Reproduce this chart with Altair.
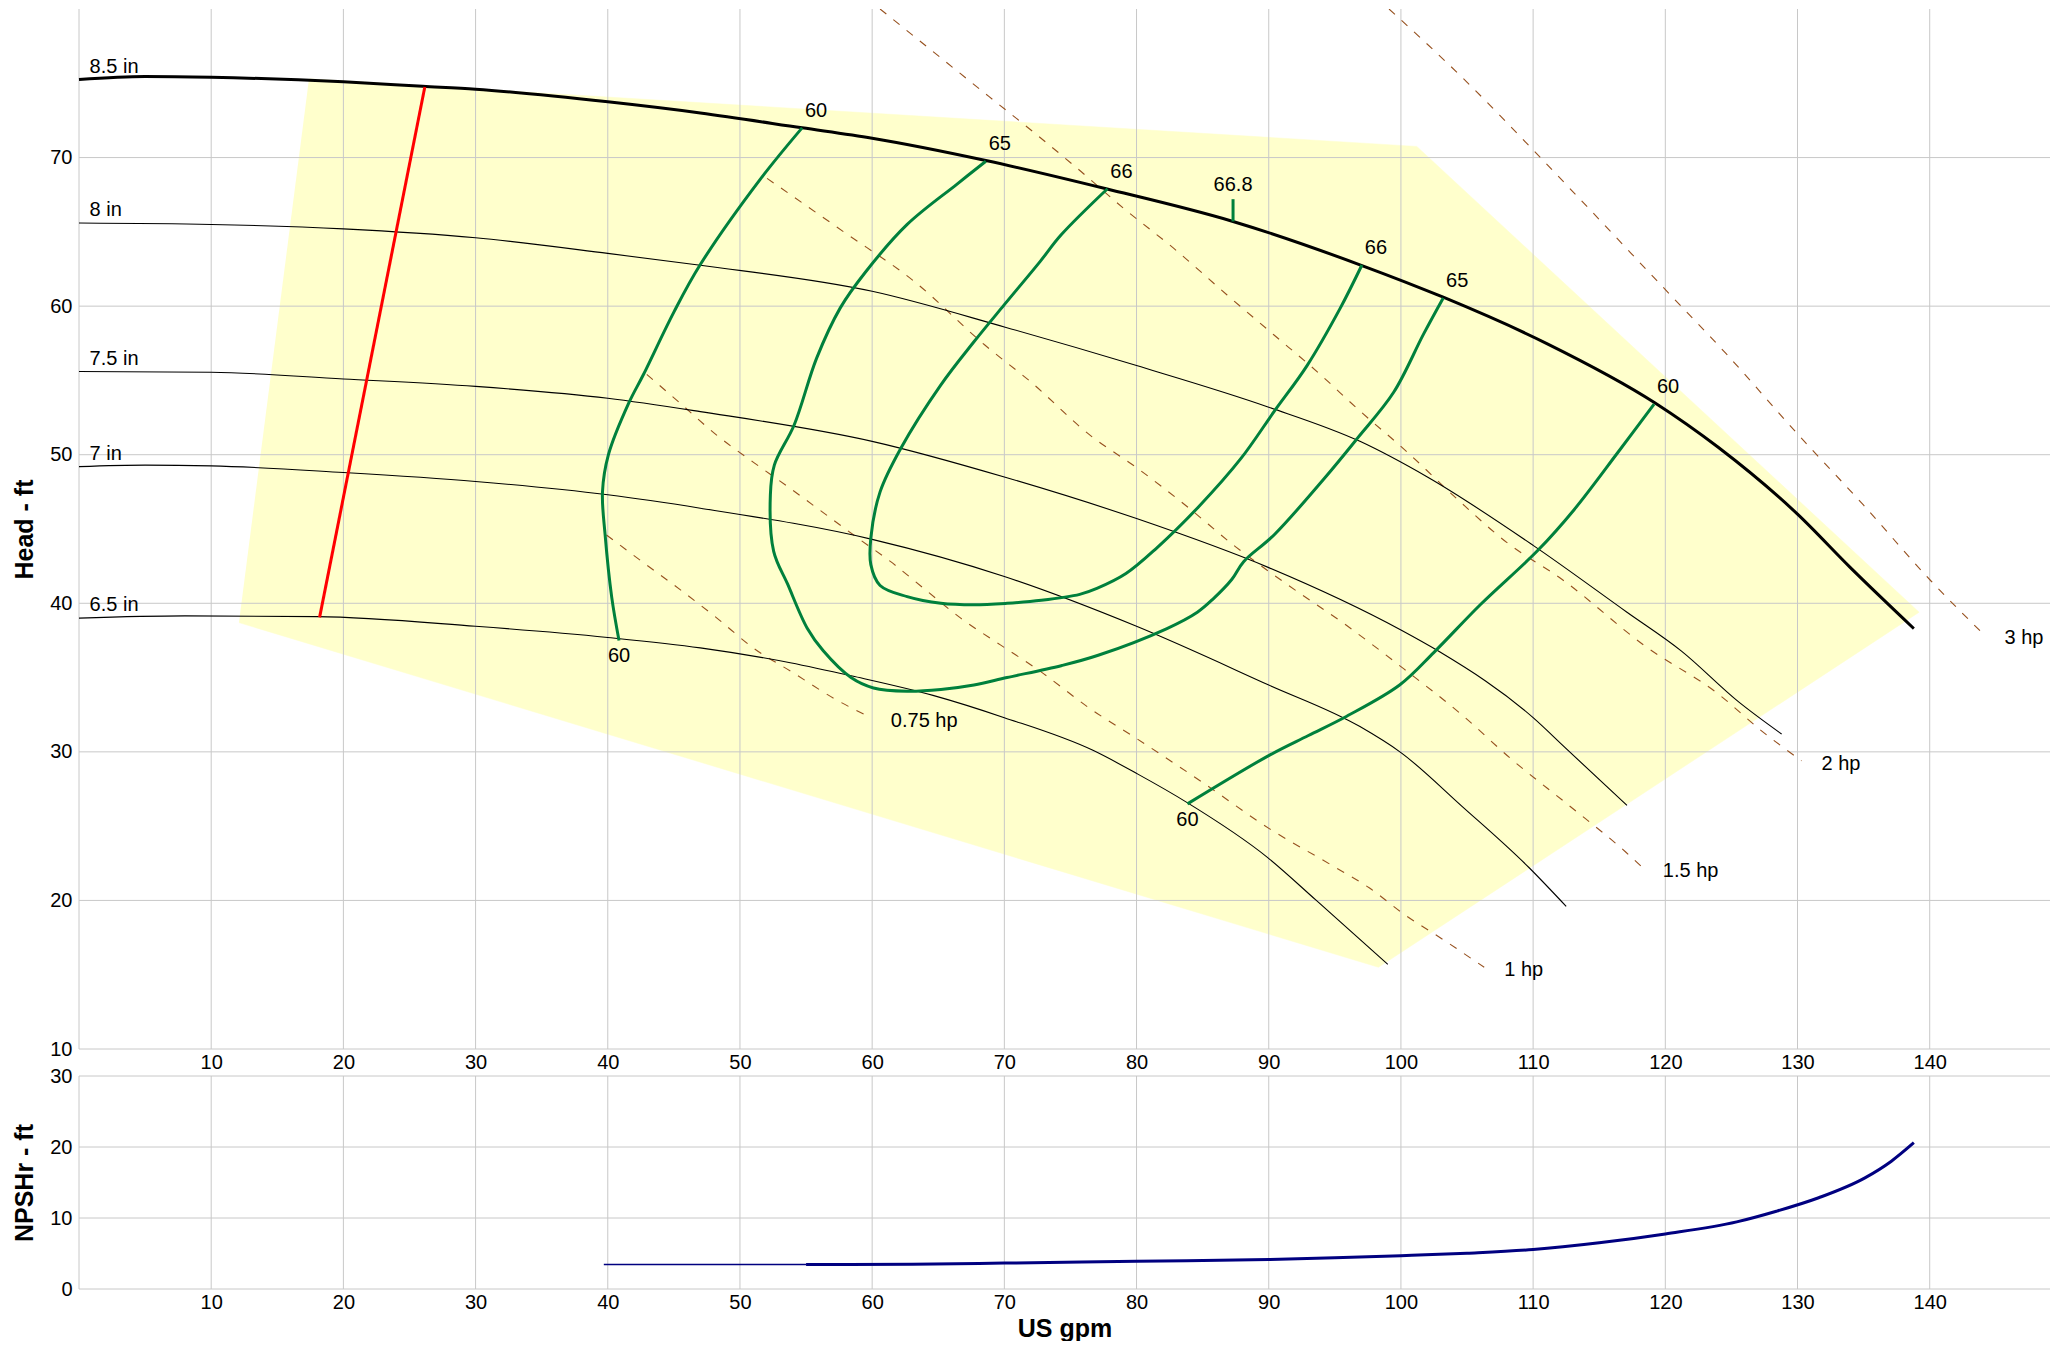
import altair as alt
import pandas as pd

FONT = "Liberation Sans"
GREEN = "#00803C"
BROWN = "#96501E"
GRID = "#c8c8c8"
YELLOW = "#FFFFCC"

# ---------------- impeller curves (US gpm, ft) ----------------
Q_85 = [0, 5, 10, 20, 26, 30, 40, 47, 54.7, 60, 68.6, 77.7, 87.3, 97, 103.2, 111, 119.2, 124, 130, 134, 138.8]
H_85 = [75.25, 75.45, 75.4, 75.1, 74.8, 74.6, 73.75, 73.0, 72.0, 71.3, 69.8, 67.9, 65.7, 62.75, 60.6, 57.5, 53.5, 50.5, 46.0, 42.4, 38.3]
Q_80 = [0, 10, 20, 30, 40, 47, 60, 70, 80, 90, 96.9, 102, 110, 117.1, 121.2, 125.5, 128.8]
H_80 = [65.6, 65.5, 65.2, 64.6, 63.55, 62.75, 61.0, 58.6, 56.0, 53.2, 50.9, 48.5, 43.9, 39.4, 36.8, 33.4, 31.2]
Q_75 = [0, 10, 20, 30, 40, 47, 60, 70, 80, 90, 100, 102.8, 110, 112.4, 117.1]
H_75 = [55.6, 55.55, 55.1, 54.6, 53.8, 52.9, 50.9, 48.5, 45.7, 42.4, 38.2, 36.8, 32.3, 30.3, 26.4]
Q_70 = [0, 5, 10, 20, 30, 40, 47, 60, 70, 80, 90, 96.9, 100, 104.6, 109.7, 112.5]
H_70 = [49.2, 49.3, 49.25, 48.8, 48.2, 47.3, 46.4, 44.3, 41.8, 38.45, 34.5, 31.7, 29.95, 26.35, 22.2, 19.6]
Q_65 = [0, 8, 18, 30, 40, 47, 53.8, 58.5, 64.6, 70, 76.7, 80.1, 83.8, 89.9, 93.6, 99]
H_65 = [39.0, 39.15, 39.1, 38.45, 37.7, 37.0, 36.0, 35.1, 33.8, 32.3, 30.1, 28.5, 26.6, 22.9, 20.0, 15.7]
SIZE_NAMES = ["8.5 in", "8 in", "7.5 in", "7 in", "6.5 in"]

# ---------------- efficiency curves ----------------
E60L_Q = [54.7, 51.5, 47.0, 45.0, 42.7, 41.6, 40.05, 39.6, 39.8, 40.3, 40.85]
E60L_H = [72.0, 68.5, 62.8, 59.6, 55.4, 53.5, 50.0, 47.5, 44.6, 40.4, 37.5]
E65_Q = [68.6, 66.4, 62.65, 59.5, 57.6, 55.8, 54.1, 52.6, 52.3, 52.55, 53.6, 55.1, 56.3, 58.4, 60.1, 62.65, 65.2, 67.7, 70.2, 74.3, 77.1, 82.3, 84.6, 85.8, 87.2, 88.1, 90.4, 94.2, 96.7, 99.45, 101.7, 103.2]
E65_H = [69.75, 68.2, 65.5, 62.3, 59.9, 56.5, 52.0, 49.3, 47.3, 43.5, 41.3, 38.3, 36.8, 35.0, 34.3, 34.08, 34.2, 34.5, 35.0, 35.8, 36.5, 38.3, 39.4, 40.3, 41.6, 42.8, 44.6, 48.4, 51.1, 54.2, 58.1, 60.55]
E66_Q = [77.8, 74.3, 72.7, 70.0, 67.7, 65.2, 62.15, 60.6, 59.9, 59.9, 60.6, 62.65, 65.2, 67.7, 70.2, 72.8, 75.7, 77.0, 79.2, 81.5, 84.7, 87.9, 90.4, 92.9, 95.4, 97.05]
E66_H = [67.9, 64.8, 63.0, 60.1, 57.6, 54.7, 50.4, 47.5, 44.4, 42.6, 41.2, 40.45, 40.0, 39.9, 40.0, 40.2, 40.6, 41.0, 42.0, 43.7, 46.5, 49.75, 52.9, 56.0, 59.85, 62.77]
E60R_Q = [119.15, 116.45, 113.1, 110.4, 106.0, 102.5, 99.9, 95.9, 93.0, 90.1, 83.85]
E60R_H = [53.4, 50.2, 46.3, 43.6, 39.9, 36.7, 34.5, 32.4, 31.1, 29.8, 26.5]
BEP_Q = [87.3, 87.3]
BEP_H = [65.7, 67.2]
BEP_LABEL = "66.8"

# ---------------- power curves ----------------
P075_Q = [39.9, 42.45, 45.5, 48.26, 51.0, 54.07, 57.1, 59.9]
P075_H = [44.6, 42.9, 40.9, 39.0, 37.0, 35.3, 33.6, 32.3]
P1_Q = [42.95, 45.5, 48.26, 51.0, 53.7, 56.3, 58.9, 61.4, 63.9, 66.7, 69.7, 72.75, 76.5, 80.0, 84.9, 90.1, 94.7, 97.6, 100.25, 103.3, 106.3]
P1_H = [55.4, 53.45, 51.3, 49.5, 47.8, 46.1, 44.4, 42.8, 41.0, 39.0, 37.2, 35.4, 32.9, 30.9, 28.0, 24.8, 22.4, 20.85, 19.06, 17.3, 15.5]
P15_Q = [52.05, 57.85, 63.2, 68.5, 72.0, 76.5, 80.05, 83.7, 87.5, 91.5, 95.9, 100.2, 104.6, 108.3, 112.7, 117.0, 118.3]
P15_H = [68.6, 65.0, 61.65, 57.4, 54.9, 51.3, 49.1, 46.6, 43.8, 41.2, 38.5, 35.6, 32.5, 29.55, 26.4, 23.26, 22.2]
P2_Q = [60.6, 68.85, 72.5, 75.8, 79.0, 82.8, 86.85, 90.4, 93.9, 96.7, 100.45, 104.2, 108.0, 112.2, 118.5, 124.0, 127.3, 130.3]
P2_H = [80.0, 74.1, 71.5, 69.06, 66.6, 63.9, 60.75, 58.06, 55.4, 53.1, 50.2, 47.06, 44.1, 41.6, 37.1, 33.9, 31.4, 29.4]
P3_Q = [99.1, 104.97, 109.9, 114.4, 119.8, 124.6, 130.0, 135.0, 140.1, 144.15]
P3_H = [80.0, 75.1, 70.6, 66.4, 61.3, 56.8, 51.4, 46.6, 41.5, 37.85]
HP_NAMES = ["0.75 hp", "1 hp", "1.5 hp", "2 hp", "3 hp"]

# ---------------- minimum flow line & operating region ----------------
MIN_Q = [26.16, 18.2]
MIN_H = [74.75, 39.05]
REGION_Q = [17.4, 101.2, 139.2, 98.3, 12.1]
REGION_H = [75.3, 70.75, 39.4, 15.5, 38.7]

# ---------------- NPSHr ----------------
NPSH_THIN_Q = [39.7, 55.0]
NPSH_THIN_H = [3.45, 3.45]
NPSH_Q = [55.0, 63, 70, 80, 90, 95, 100, 105, 110, 115, 120, 125.4, 128.4, 131.6, 135.1, 137.1, 138.8]
NPSH_H = [3.45, 3.5, 3.65, 3.9, 4.15, 4.4, 4.7, 5.05, 5.55, 6.5, 7.75, 9.45, 10.95, 12.85, 15.65, 18.0, 20.6]

# ---------------- axes / grid ----------------
X_TICKS = list(range(10, 141, 10))
X_GRID = list(range(0, 141, 10))
Y_TICKS_TOP = list(range(10, 71, 10))
Y_TICKS_BOT = [0, 10, 20, 30]
X_MAX = 149.1


def cdf(name, qs, hs):
    return pd.DataFrame({"q": qs, "h": hs, "curve": name, "i": list(range(len(qs)))})


W, HT, HB = 1971, 1040, 213
xs = alt.Scale(domain=[0, X_MAX], nice=False, zero=False)
yts = alt.Scale(domain=[10, 80], nice=False, zero=False)
ybs = alt.Scale(domain=[0, 30], nice=False, zero=False)

x_axis_top = alt.Axis(values=X_TICKS, format="d", title=None)
x_axis_bot = alt.Axis(values=X_TICKS, format="d", title="US gpm")
y_axis_top = alt.Axis(values=Y_TICKS_TOP, format="d", title="Head - ft")
y_axis_bot = alt.Axis(values=Y_TICKS_BOT, format="d", title="NPSHr - ft")


def XT(f="q"):
    return alt.X(f"{f}:Q", scale=xs, axis=x_axis_top)


def YT(f="h"):
    return alt.Y(f"{f}:Q", scale=yts, axis=y_axis_top)


def XB(f="q"):
    return alt.X(f"{f}:Q", scale=xs, axis=x_axis_bot)


def YB(f="h"):
    return alt.Y(f"{f}:Q", scale=ybs, axis=y_axis_bot)


# ----- data frames -----
region = cdf("region", REGION_Q, REGION_H)
imp_thin = pd.concat([cdf(n, q, h) for n, q, h in zip(SIZE_NAMES[1:], [Q_80, Q_75, Q_70, Q_65], [H_80, H_75, H_70, H_65])])
imp_thick = cdf(SIZE_NAMES[0], Q_85, H_85)
size_lab = pd.DataFrame({"q": [0.8] * 5, "h": [H_85[0], H_80[0], H_75[0], H_70[0], H_65[0]], "t": SIZE_NAMES})

eff = pd.concat([
    cdf("60L", E60L_Q, E60L_H), cdf("65", E65_Q, E65_H), cdf("66", E66_Q, E66_H),
    cdf("60R", E60R_Q, E60R_H), cdf("bep", BEP_Q, BEP_H)])
eff_top_lab = pd.DataFrame({
    "q": [E60L_Q[0], E65_Q[0], E66_Q[0], E66_Q[-1], E65_Q[-1], E60R_Q[0]],
    "h": [E60L_H[0], E65_H[0], E66_H[0], E66_H[-1], E65_H[-1], E60R_H[0]],
    "t": ["60", "65", "66", "66", "65", "60"]})
eff_bot_lab = pd.DataFrame({"q": [E60L_Q[-1], E60R_Q[-1]], "h": [E60L_H[-1], E60R_H[-1]], "t": ["60", "60"]})
bep_lab = pd.DataFrame({"q": [BEP_Q[1]], "h": [BEP_H[1]], "t": [BEP_LABEL]})

hp_lists = [(P075_Q, P075_H), (P1_Q, P1_H), (P15_Q, P15_H), (P2_Q, P2_H), (P3_Q, P3_H)]
hp = pd.concat([cdf(n, q, h) for n, (q, h) in zip(HP_NAMES, hp_lists)])
hp_lab = pd.DataFrame({"q": [q[-1] for q, h in hp_lists], "h": [h[-1] for q, h in hp_lists], "t": HP_NAMES})

minflow = cdf("min", MIN_Q, MIN_H)
gx = pd.DataFrame({"v": X_GRID})
gyt = pd.DataFrame({"v": Y_TICKS_TOP})
gyb = pd.DataFrame({"v": Y_TICKS_BOT})
npsh_thin = cdf("thin", NPSH_THIN_Q, NPSH_THIN_H)
npsh = cdf("npsh", NPSH_Q, NPSH_H)

# ----- top chart -----
poly = alt.Chart(region).mark_line(fill=YELLOW, stroke=YELLOW, strokeWidth=0.5).encode(
    x=XT(), y=YT(), order="i:Q")
grid_x_t = alt.Chart(gx).mark_rule(color=GRID, strokeWidth=1).encode(x=XT("v"))
grid_y_t = alt.Chart(gyt).mark_rule(color=GRID, strokeWidth=1).encode(y=YT("v"))
hp_lines = alt.Chart(hp).mark_line(color=BROWN, strokeWidth=1.1, strokeDash=[8, 9], interpolate="monotone", clip=True).encode(
    x=XT(), y=YT(), detail="curve:N", order="i:Q")
thin = alt.Chart(imp_thin).mark_line(color="black", strokeWidth=1.1, interpolate="monotone").encode(
    x=XT(), y=YT(), detail="curve:N", order="i:Q")
thick = alt.Chart(imp_thick).mark_line(color="black", strokeWidth=3, interpolate="monotone").encode(
    x=XT(), y=YT(), order="i:Q")
red = alt.Chart(minflow).mark_line(color="#FF0000", strokeWidth=3).encode(x=XT(), y=YT(), order="i:Q")
green = alt.Chart(eff).mark_line(color=GREEN, strokeWidth=3, interpolate="catmull-rom").encode(
    x=XT(), y=YT(), detail="curve:N", order="i:Q")

txt = dict(font=FONT, fontSize=20, color="black")
t_size = alt.Chart(size_lab).mark_text(align="left", baseline="alphabetic", dy=-7, **txt).encode(x=XT(), y=YT(), text="t:N")
t_efft = alt.Chart(eff_top_lab).mark_text(align="center", baseline="middle", dx=14, dy=-17, **txt).encode(x=XT(), y=YT(), text="t:N")
t_effb = alt.Chart(eff_bot_lab).mark_text(align="center", baseline="middle", dx=0, dy=16, **txt).encode(x=XT(), y=YT(), text="t:N")
t_bep = alt.Chart(bep_lab).mark_text(align="center", baseline="middle", dy=-14, **txt).encode(x=XT(), y=YT(), text="t:N")
t_hp = alt.Chart(hp_lab).mark_text(align="left", baseline="middle", dx=20, dy=3, **txt).encode(x=XT(), y=YT(), text="t:N")

top = alt.layer(poly, grid_x_t, grid_y_t, hp_lines, thin, thick, red, green,
                t_size, t_efft, t_effb, t_bep, t_hp).properties(width=W, height=HT)

# ----- bottom chart -----
grid_x_b = alt.Chart(gx).mark_rule(color=GRID, strokeWidth=1).encode(x=XB("v"))
grid_y_b = alt.Chart(gyb).mark_rule(color=GRID, strokeWidth=1).encode(y=YB("v"))
npsh_t = alt.Chart(npsh_thin).mark_line(color="#000080", strokeWidth=1.5).encode(x=XB(), y=YB(), order="i:Q")
npsh_l = alt.Chart(npsh).mark_line(color="#000080", strokeWidth=3, interpolate="monotone").encode(x=XB(), y=YB(), order="i:Q")
bottom = alt.layer(grid_x_b, grid_y_b, npsh_t, npsh_l).properties(width=W, height=HB)

chart = alt.vconcat(top, bottom, spacing=-6,
                    padding={"left": 4, "top": 0, "right": 0, "bottom": 0}).configure_view(
    stroke=None
).configure_axis(
    grid=False, ticks=False, domain=False,
    labelFont=FONT, labelFontSize=20, labelColor="black",
    titleFont=FONT, titleFontSize=25, titleFontWeight="bold", titleColor="black",
).configure_axisLeft(labelPadding=7, titlePadding=12).configure_axisBottom(labelPadding=3, titlePadding=4)

chart.save("out.html", embed_options={"renderer": "svg", "actions": False})
